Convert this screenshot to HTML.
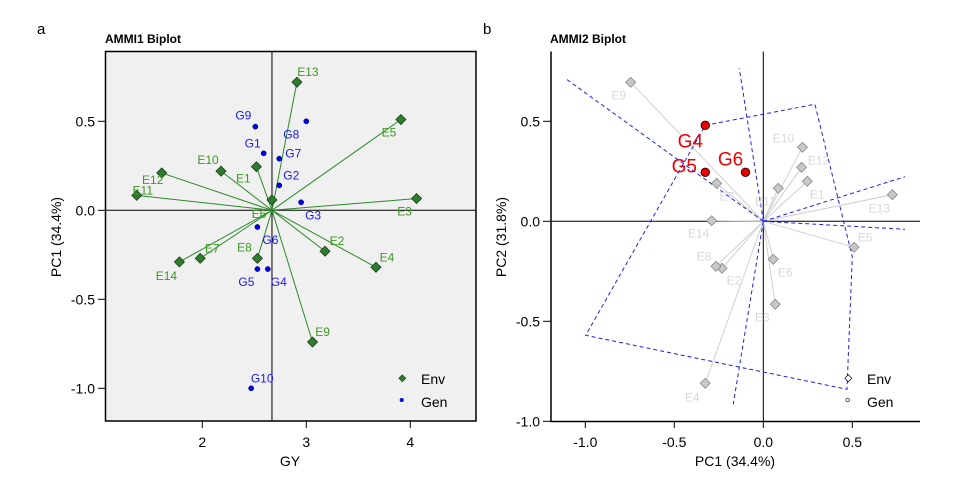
<!DOCTYPE html>
<html><head><meta charset="utf-8"><style>
body{margin:0;background:#fff;}
svg{display:block;font-family:"Liberation Sans",Arial,sans-serif;}
</style></head><body>
<svg id="fig" width="960" height="480" viewBox="0 0 960 480">
<text x="37" y="34" font-size="15">a</text>
<text x="483" y="34" font-size="15">b</text>
<text x="105" y="43" font-size="12" font-weight="bold">AMMI1 Biplot</text>
<text x="550" y="43" font-size="12" font-weight="bold">AMMI2 Biplot</text>
<g id="left"></g>
<g id="right"></g>
</svg>
<script>
// ---------- AMMI1 data ----------
const envNames1 = ["E1","E2","E3","E4","E5","E6","E7","E8","E9","E10","E11","E12","E13","E14"];
const envGY = [2.52,3.18,4.06,3.67,3.91,2.67,1.98,2.53,3.06,2.18,1.37,1.61,2.91,1.78];
const envPC1 = [0.245,-0.23,0.066,-0.32,0.51,0.058,-0.27,-0.27,-0.74,0.22,0.084,0.21,0.72,-0.29];
const genNames1 = ["G1","G2","G3","G4","G5","G6","G7","G8","G9","G10"];
const genGY = [2.59,2.74,2.95,2.63,2.53,2.53,2.74,3.0,2.51,2.47];
const genPC1 = [0.32,0.14,0.045,-0.33,-0.33,-0.094,0.29,0.50,0.47,-1.0];
const xTicks1 = [2,3,4];
const yTicks1 = [0.5,0.0,-0.5,-1.0];
const meanGY = 2.67;
// ---------- AMMI2 data ----------
const envNames2 = ["E1","E2","E3","E4","E5","E6","E7","E8","E9","E10","E11","E12","E13","E14"];
const envPCa = [0.247,-0.232,0.067,-0.326,0.51,0.056,-0.262,-0.266,-0.745,0.22,0.084,0.215,0.725,-0.29];
const envPCb = [0.20,-0.235,-0.415,-0.81,-0.13,-0.19,0.19,-0.225,0.695,0.37,0.165,0.27,0.133,0.003];
const genNames2 = ["G4","G5","G6"];
const genPCa = [-0.326,-0.326,-0.10];
const genPCb = [0.48,0.245,0.245];
const hullX = [-0.326,0.29,0.5,0.47,-0.998];
const hullY = [0.48,0.585,-0.177,-0.84,-0.57];
const rayX = [-1.105,-0.135,-0.169,0.796,0.796];
const rayY = [0.71,0.765,-0.915,0.223,-0.04];
const xTicks2 = [-1.0,-0.5,0.0,0.5];
const yTicks2 = [0.5,0.0,-0.5,-1.0];

const NS="http://www.w3.org/2000/svg";
function mk(parent,tag,attrs,text){const e=document.createElementNS(NS,tag);for(const k in attrs)e.setAttribute(k,attrs[k]);if(text!==undefined)e.textContent=text;parent.appendChild(e);return e;}
function diamond(cx,cy,r){return `${cx},${cy-r} ${cx+r},${cy} ${cx},${cy+r} ${cx-r},${cy}`;}

// ---------- Left plot ----------
const L=document.getElementById('left');
const x1=v=>202.3+(v-2)*104;
const y1=v=>210.3-v*178;
let e;
e=mk(L,'rect',{x:105.5,y:51.5,width:370.5,height:369.5,fill:'#f0f0f0',stroke:'#000','stroke-width':1.5});


e=mk(L,'line',{x1:x1(meanGY),x2:x1(meanGY),y1:51.5,y2:421,stroke:'#000','stroke-width':1});


e=mk(L,'line',{x1:105.5,x2:476,y1:y1(0),y2:y1(0),stroke:'#000','stroke-width':1});


xTicks1.forEach(t=>{
  e=mk(L,'line',{x1:x1(t),x2:x1(t),y1:421,y2:428,stroke:'#000'});
  
  
  e=mk(L,'text',{x:x1(t),y:447,'font-size':14,'text-anchor':'middle'},String(t));
  
  
});
yTicks1.forEach(t=>{
  e=mk(L,'line',{x1:98,x2:105.5,y1:y1(t),y2:y1(t),stroke:'#000'});
  
  
  e=mk(L,'text',{x:95,y:y1(t)+5,'font-size':14,'text-anchor':'end'},t.toFixed(1));
  
  
});
e=mk(L,'text',{x:290,y:466,'font-size':14,'text-anchor':'middle'},'GY');


e=mk(L,'text',{x:0,y:0,'font-size':14,'text-anchor':'middle',transform:'translate(61,237) rotate(-90)'},'PC1 (34.4%)');


const envOff1=[[-13,12],[12,-10],[-12,13],[11,-10],[-12,13],[-13,14],[12,-10],[-13,-11],[10,-10],[-13,-11],[6,-5],[-9,7],[11,-10],[-13,14]];
const genOff1=[[-11,-10],[12,-10],[12,13],[11,13],[-11,13],[13,13],[14,-5],[-15,13],[-12,-11],[11,-10]];
envGY.forEach((v,i)=>{
  e=mk(L,'line',{x1:x1(meanGY),y1:y1(0),x2:x1(v),y2:y1(envPC1[i]),stroke:'#2a8a2a','stroke-width':1});
  
  
});
envGY.forEach((v,i)=>{
  const cx=x1(v),cy=y1(envPC1[i]);
  e=mk(L,'polygon',{points:diamond(cx,cy,5),fill:'#2e7d2e',stroke:'#1a3a1a','stroke-width':0.8});
  
  
  e=mk(L,'text',{x:cx+envOff1[i][0],y:cy+envOff1[i][1]+4,'font-size':12,'text-anchor':'middle',fill:'#3a9a20'},envNames1[i]);
  
  
});
genGY.forEach((v,i)=>{
  const cx=x1(v),cy=y1(genPC1[i]);
  e=mk(L,'circle',{cx:cx,cy:cy,r:2.6,fill:'#0000ee',stroke:'#000030','stroke-width':0.5});
  
  
  e=mk(L,'text',{x:cx+genOff1[i][0],y:cy+genOff1[i][1]+4,'font-size':12,'text-anchor':'middle',fill:'#1a1aee'},genNames1[i]);
  
  
});
e=mk(L,'polygon',{points:diamond(402.3,378.3,3.5),fill:'#2e7d2e',stroke:'#1a3a1a','stroke-width':0.6});


e=mk(L,'text',{x:421,y:384,'font-size':14},'Env');


e=mk(L,'circle',{cx:401.7,cy:400,r:2,fill:'#0000ee'});


e=mk(L,'text',{x:421,y:407,'font-size':14},'Gen');



// ---------- Right plot ----------
const R=document.getElementById('right');
const x2=v=>763.3+v*178;
const y2=v=>221.3-v*200;
e=mk(R,'line',{x1:551,x2:551,y1:51.5,y2:422,stroke:'#000','stroke-width':1.5});


e=mk(R,'line',{x1:550,x2:920,y1:421.5,y2:421.5,stroke:'#000','stroke-width':1.5});


e=mk(R,'line',{x1:x2(0),x2:x2(0),y1:51.5,y2:421,stroke:'#000','stroke-width':1});


e=mk(R,'line',{x1:551,x2:920,y1:y2(0),y2:y2(0),stroke:'#000','stroke-width':1});


xTicks2.forEach(t=>{
  e=mk(R,'line',{x1:x2(t),x2:x2(t),y1:421,y2:428,stroke:'#000'});
  
  
  e=mk(R,'text',{x:x2(t),y:447,'font-size':14,'text-anchor':'middle'},t.toFixed(1));
  
  
});
yTicks2.forEach(t=>{
  e=mk(R,'line',{x1:543,x2:551,y1:y2(t),y2:y2(t),stroke:'#000'});
  
  
  e=mk(R,'text',{x:540,y:y2(t)+5,'font-size':14,'text-anchor':'end'},t.toFixed(1));
  
  
});
e=mk(R,'text',{x:735,y:466,'font-size':14,'text-anchor':'middle'},'PC1 (34.4%)');


e=mk(R,'text',{x:0,y:0,'font-size':14,'text-anchor':'middle',transform:'translate(506,237) rotate(-90)'},'PC2 (31.8%)');


envPCa.forEach((v,i)=>{
  e=mk(R,'line',{x1:x2(0),y1:y2(0),x2:x2(v),y2:y2(envPCb[i]),stroke:'#cfcfcf','stroke-width':1});
  
  
});
const hp=hullX.map((v,i)=>x2(v)+','+y2(hullY[i])).join(' ');
e=mk(R,'polygon',{points:hp,fill:'none',stroke:'#1f1fee','stroke-width':1,'stroke-dasharray':'4,3'});


rayX.forEach((v,i)=>{
  e=mk(R,'line',{x1:x2(0),y1:y2(0),x2:x2(v),y2:y2(rayY[i]),stroke:'#1f1fee','stroke-width':1,'stroke-dasharray':'4,3'});
  
  
});
const envOff2=[[10,13],[12,12],[-13,13],[-13,14],[11,-10],[12,13],[10,13],[-12,-10],[-12,13],[-19,-9],[-13,13],[17,-7],[-13,14],[-13,13]];
envPCa.forEach((v,i)=>{
  const cx=x2(v),cy=y2(envPCb[i]);
  e=mk(R,'polygon',{points:diamond(cx,cy,5),fill:'#c8c8c8',stroke:'#8a8a8a','stroke-width':0.8});
  
  
  e=mk(R,'text',{x:cx+envOff2[i][0],y:cy+envOff2[i][1]+4,'font-size':12,'text-anchor':'middle',fill:'#d8d8d8'},envNames2[i]);
  
  
});
const genOff2=[[-15,16],[-21,-6],[-15,-13]];
genPCa.forEach((v,i)=>{
  const cx=x2(v),cy=y2(genPCb[i]);
  e=mk(R,'circle',{cx:cx,cy:cy,r:4.2,fill:'#ee0000',stroke:'#300','stroke-width':1});
  
  
  e=mk(R,'text',{x:cx+genOff2[i][0],y:cy+genOff2[i][1]+6,'font-size':19,'text-anchor':'middle',fill:'#ee0000'},genNames2[i]);
  
  
});
e=mk(R,'polygon',{points:diamond(848.3,378.3,3.5),fill:'#fff',stroke:'#000','stroke-width':0.7});


e=mk(R,'text',{x:867,y:384,'font-size':14},'Env');


e=mk(R,'circle',{cx:847.7,cy:400,r:1.8,fill:'#fff',stroke:'#000','stroke-width':0.7});


e=mk(R,'text',{x:867,y:407,'font-size':14},'Gen');


</script>
</body></html>
